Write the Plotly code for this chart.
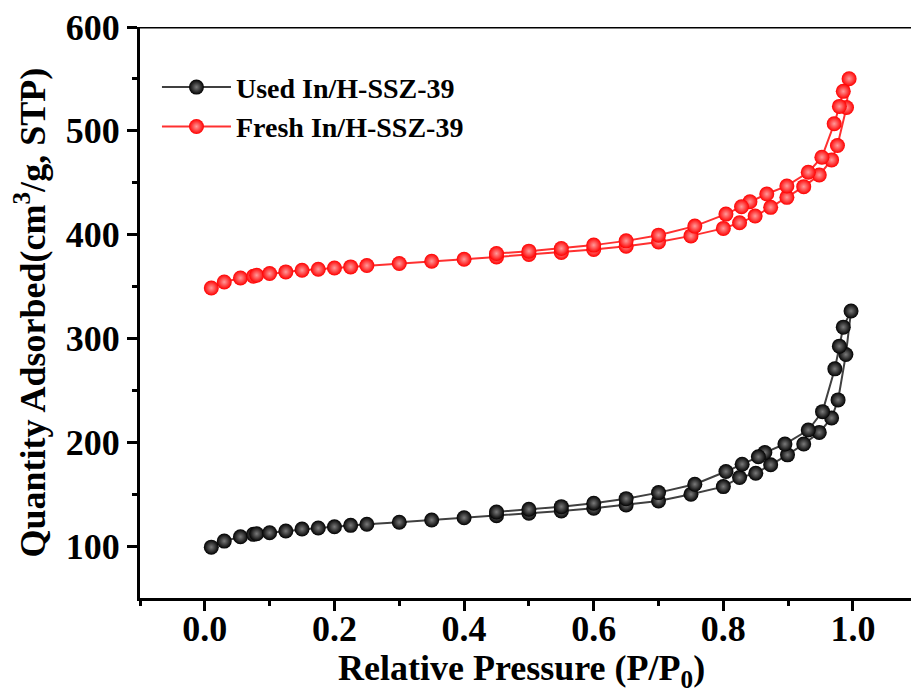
import plotly.graph_objects as go

# Used In/H-SSZ-39 (adsorption then desorption)
used_p = [0.01, 0.03, 0.055, 0.075, 0.08, 0.1, 0.125, 0.15, 0.175, 0.2, 0.225, 0.25,
          0.3, 0.35, 0.4, 0.45, 0.5, 0.55, 0.6, 0.65, 0.7, 0.75, 0.8, 0.825, 0.85,
          0.873, 0.899, 0.924, 0.948, 0.967, 0.977, 0.989, 0.997,
          0.985, 0.979, 0.972, 0.953, 0.931, 0.895, 0.864, 0.854, 0.829, 0.804,
          0.756, 0.7, 0.65, 0.6, 0.55, 0.5, 0.45]
used_q = [99.0, 104.8, 109.0, 111.3, 111.9, 112.9, 114.5, 116.4, 117.4, 118.6, 120.0, 121.0,
          123.0, 125.1, 127.3, 129.3, 131.6, 133.8, 136.4, 139.6, 143.5, 150.0, 157.3, 166.0, 170.2,
          178.3, 187.9, 198.3, 209.5, 223.4, 240.8, 284.5, 326.4,
          310.9, 292.6, 270.7, 229.5, 211.8, 198.3, 190.1, 186.0, 178.9, 171.8,
          159.6, 151.5, 145.7, 141.3, 138.0, 135.5, 132.9]

# Fresh In/H-SSZ-39 (adsorption then desorption)
fresh_p = [0.01, 0.03, 0.055, 0.075, 0.08, 0.1, 0.125, 0.15, 0.175, 0.2, 0.225, 0.25,
           0.3, 0.35, 0.4, 0.45, 0.5, 0.55, 0.6, 0.65, 0.7, 0.75, 0.8, 0.825, 0.849,
           0.873, 0.898, 0.924, 0.948, 0.967, 0.976, 0.99, 0.994,
           0.985, 0.979, 0.971, 0.952, 0.931, 0.898, 0.867, 0.841, 0.828, 0.804,
           0.756, 0.7, 0.65, 0.6, 0.55, 0.5, 0.45]
fresh_q = [348.6, 354.4, 358.3, 359.9, 360.9, 362.5, 364.1, 365.7, 366.7, 367.9, 368.9, 370.2,
           372.2, 374.4, 376.3, 378.5, 380.9, 382.8, 385.7, 388.9, 393.0, 398.8, 406.0, 411.4, 417.9,
           426.3, 435.9, 446.2, 457.5, 472.0, 485.8, 522.5, 550.2,
           538.0, 523.5, 506.8, 474.6, 460.1, 446.9, 439.1, 431.7, 426.9, 419.8,
           408.2, 399.5, 394.0, 389.9, 386.7, 384.1, 381.8]

series_names = ["Used In/H-SSZ-39", "Fresh In/H-SSZ-39"]
x_ticks = [0.0, 0.2, 0.4, 0.6, 0.8, 1.0]
x_ticktext = ["0.0", "0.2", "0.4", "0.6", "0.8", "1.0"]
y_ticks = [100, 200, 300, 400, 500, 600]
y_ticktext = ["100", "200", "300", "400", "500", "600"]
x_title = "Relative Pressure (P/P<sub>0</sub>)"
y_title = "Quantity Adsorbed(cm<sup>3</sup>/g, STP)"

FONT = "Liberation Serif"

fig = go.Figure()
fig.add_trace(go.Scatter(
    x=used_p, y=used_q, mode="lines+markers", name=series_names[0],
    line=dict(color="#404040", width=2),
    marker=dict(size=15, color="#000000",
                gradient=dict(type="radial", color="#7a7a7a"),
                line=dict(width=0)),
))
fig.add_trace(go.Scatter(
    x=fresh_p, y=fresh_q, mode="lines+markers", name=series_names[1],
    line=dict(color="#ff3030", width=2),
    marker=dict(size=15, color="#ff0000",
                gradient=dict(type="radial", color="#ff9a9a"),
                line=dict(width=0)),
))

axis_font = dict(family=FONT, size=36, color="black", weight="bold")

fig.update_layout(
    width=911, height=693,
    margin=dict(l=140, r=0, t=27, b=95, autoexpand=False),
    paper_bgcolor="white", plot_bgcolor="white",
    showlegend=True,
    legend=dict(x=0.022, y=0.938, xanchor="left", yanchor="top",
                bgcolor="rgba(0,0,0,0)", itemwidth=69,
                font=dict(family=FONT, size=28, color="black", weight="bold")),
    xaxis=dict(
        range=[-0.1, 1.0895], showgrid=False, zeroline=False, automargin=False,
        showline=True, linecolor="black", linewidth=3,
        ticks="outside", ticklen=10, tickwidth=3, tickcolor="black",
        tickmode="array", tickvals=x_ticks, ticktext=x_ticktext,
        ticklabelstandoff=-13,
        minor=dict(ticks="outside", ticklen=5, tickwidth=3, tickcolor="black",
                   tickvals=[-0.1, 0.1, 0.3, 0.5, 0.7, 0.9]),
        tickfont=axis_font,
    ),
    yaxis=dict(
        range=[50, 600], showgrid=False, zeroline=False, automargin=False,
        showline=True, linecolor="black", linewidth=3,
        ticks="outside", ticklen=10, tickwidth=3, tickcolor="black",
        tickmode="array", tickvals=y_ticks, ticktext=y_ticktext,
        minor=dict(ticks="outside", ticklen=5, tickwidth=3, tickcolor="black",
                   tickvals=[150, 250, 350, 450, 550]),
        tickfont=axis_font,
    ),
    shapes=[dict(type="line", xref="paper", yref="y", x0=0, x1=1, y0=600, y1=600,
                 line=dict(color="black", width=3))],
    annotations=[
        dict(text=x_title, xref="paper", yref="paper", x=(521 - 140) / 771, y=-(670 - 598) / 571,
             xanchor="center", yanchor="middle", showarrow=False, font=axis_font),
        dict(text=y_title, xref="paper", yref="paper", x=-(140 - 30) / 771, y=0.5,
             xanchor="center", yanchor="middle", textangle=-90, showarrow=False, font=axis_font),
    ],
)

fig.write_html("out.html", config={"displayModeBar": False},
               post_script="document.body.style.margin='0';document.body.style.padding='0';")
